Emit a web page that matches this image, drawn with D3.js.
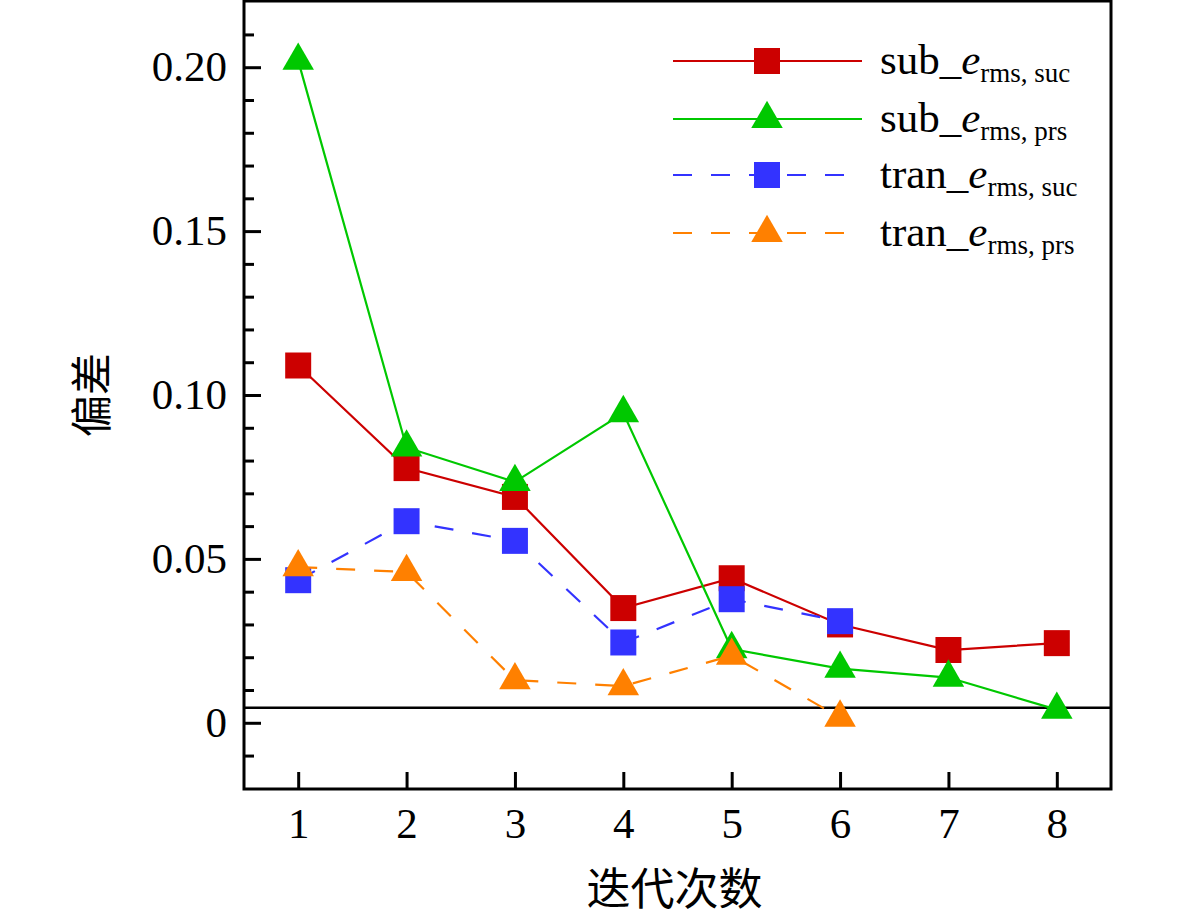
<!DOCTYPE html>
<html>
<head>
<meta charset="utf-8">
<script src="https://cdn.jsdelivr.net/npm/d3@7"></script>
<style>
  body { margin: 0; background: #fff; }
  svg { display: block; }
</style>
</head>
<body>
<div id="chart"></div>
<script>
const width = 1181, height = 921;

// données
const iterations = [1, 2, 3, 4, 5, 6, 7, 8];
const subSuc = [0.1090, 0.0777, 0.0689, 0.0350, 0.0441, 0.0300, 0.0222, 0.0243];
const subPrs = [0.2020, 0.0840, 0.0735, 0.0945, 0.0225, 0.0165, 0.0138, 0.0040];
const tranSuc = [0.0435, 0.0615, 0.0555, 0.0245, 0.0377, 0.0310];
const tranPrs = [0.0475, 0.0460, 0.0130, 0.0112, 0.0205, 0.0016];
const refLine = 0.0046;
const yMajorTicks = [0, 0.05, 0.10, 0.15, 0.20];
const yTickLabels = ["0", "0.05", "0.10", "0.15", "0.20"];
const yMinorTicks = [-0.01, 0.01, 0.02, 0.03, 0.04, 0.06, 0.07, 0.08, 0.09, 0.11, 0.12, 0.13, 0.14, 0.16, 0.17, 0.18, 0.19, 0.21];

const series = [
  { name: "sub_", sub: "rms, suc", values: subSuc, color: "#cc0000", shape: "square", dash: null },
  { name: "sub_", sub: "rms, prs", values: subPrs, color: "#00c800", shape: "triangle", dash: null },
  { name: "tran_", sub: "rms, suc", values: tranSuc, color: "#3333ff", shape: "square", dash: "19,19" },
  { name: "tran_", sub: "rms, prs", values: tranPrs, color: "#ff8000", shape: "triangle", dash: "19,19" }
];

const margin = { left: 244, right: 70, top: 1, bottom: 132 };

const svg = d3.select("#chart").append("svg")
  .attr("width", width)
  .attr("height", height);

const x = d3.scaleLinear().domain([0.5, 8.5]).range([margin.left, width - margin.right]);
const y = d3.scaleLinear().domain([-0.0202, 0.2202]).range([height - margin.bottom, margin.top]);

const serif = "'Liberation Serif', 'Times New Roman', serif";

// axes
svg.append("g")
  .attr("transform", `translate(${margin.left},0)`)
  .call(d3.axisLeft(y).tickValues(yMajorTicks).tickSizeInner(-17).tickSizeOuter(0)
    .tickPadding(17).tickFormat((d, i) => yTickLabels[i]))
  .call(g => g.select(".domain").remove())
  .call(g => g.selectAll("line").attr("stroke-width", 3))
  .call(g => g.selectAll("text").attr("font-family", serif).attr("font-size", 43).attr("fill", "#000"));

svg.append("g")
  .attr("transform", `translate(${margin.left},0)`)
  .call(d3.axisLeft(y).tickValues(yMinorTicks).tickSizeInner(-10).tickSizeOuter(0).tickFormat(""))
  .call(g => g.select(".domain").remove())
  .call(g => g.selectAll("line").attr("stroke-width", 3));

svg.append("g")
  .attr("transform", `translate(0,${height - margin.bottom})`)
  .call(d3.axisBottom(x).tickValues(iterations).tickSizeInner(-17).tickSizeOuter(0)
    .tickPadding(18).tickFormat(d3.format("d")))
  .call(g => g.select(".domain").remove())
  .call(g => g.selectAll("line").attr("stroke-width", 3))
  .call(g => g.selectAll("text").attr("font-family", serif).attr("font-size", 43).attr("fill", "#000"));

// cadre
svg.append("rect")
  .attr("x", margin.left)
  .attr("y", margin.top)
  .attr("width", width - margin.left - margin.right)
  .attr("height", height - margin.top - margin.bottom)
  .attr("fill", "none")
  .attr("stroke", "#000")
  .attr("stroke-width", 3);

// ligne de référence
svg.append("line")
  .attr("x1", margin.left)
  .attr("x2", width - margin.right)
  .attr("y1", y(refLine))
  .attr("y2", y(refLine))
  .attr("stroke", "#000")
  .attr("stroke-width", 2.5);

const sym = shape => shape === "square"
  ? d3.symbol().type(d3.symbolSquare).size(26 * 26)
  : d3.symbol().type(d3.symbolTriangle).size(430);

const line = d3.line()
  .x((d, i) => x(iterations[i]))
  .y(d => y(d));

// séries
series.forEach(s => {
  const g = svg.append("g");
  g.append("path")
    .datum(s.values)
    .attr("d", line)
    .attr("fill", "none")
    .attr("stroke", s.color)
    .attr("stroke-width", 2.2)
    .attr("stroke-dasharray", s.dash);
  g.selectAll("path.pt")
    .data(s.values)
    .join("path")
    .attr("class", "pt")
    .attr("transform", (d, i) => `translate(${x(iterations[i])},${y(d)})`)
    .attr("d", sym(s.shape)())
    .attr("fill", s.color);
});

// légende
const legend = svg.append("g");
const rowY = [61, 119, 175, 233];
series.forEach((s, i) => {
  const g = legend.append("g").attr("transform", `translate(0,${rowY[i]})`);
  g.append("line")
    .attr("x1", 673).attr("x2", 862)
    .attr("stroke", s.color)
    .attr("stroke-width", 2.2)
    .attr("stroke-dasharray", s.dash);
  g.append("path")
    .attr("transform", "translate(767,0)")
    .attr("d", sym(s.shape)())
    .attr("fill", s.color);
  const t = g.append("text")
    .attr("x", 880)
    .attr("y", 13)
    .attr("font-family", serif)
    .attr("font-size", 43)
    .attr("fill", "#000");
  t.append("tspan").text(s.name);
  t.append("tspan").attr("font-style", "italic").text("e");
  t.append("tspan").attr("font-size", 27).attr("dy", 8).text(s.sub);
});

// titres des axes
svg.append("text")
  .attr("x", x(4.5) - 3)
  .attr("y", 905)
  .attr("text-anchor", "middle")
  .attr("font-family", "'Noto Sans CJK SC', sans-serif")
  .attr("font-size", 44)
  .attr("fill", "#000")
  .text("迭代次数");

svg.append("text")
  .attr("transform", `translate(107,${y(0.10)}) rotate(-90)`)
  .attr("text-anchor", "middle")
  .attr("font-family", "'Noto Sans CJK SC', sans-serif")
  .attr("font-size", 42)
  .attr("fill", "#000")
  .text("偏差");
</script>
</body>
</html>
